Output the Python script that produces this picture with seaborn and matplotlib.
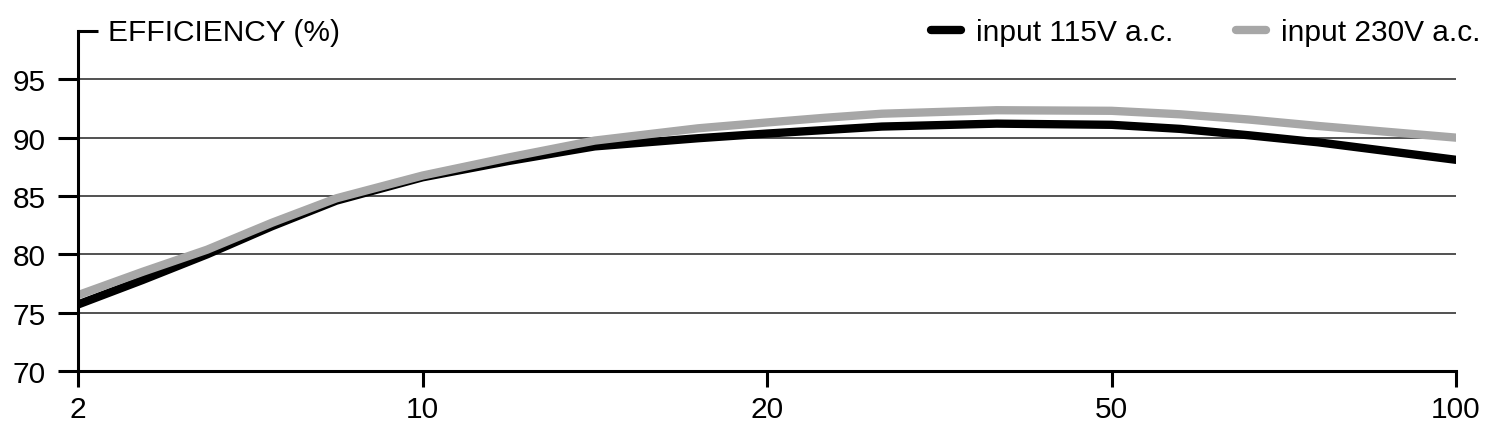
import matplotlib
matplotlib.use("Agg")
import matplotlib.pyplot as plt
import seaborn as sns
import numpy as np
import pandas as pd

load = [2, 3.5, 5, 6.5, 8, 10, 12.5, 15, 18, 20, 25, 30, 40, 50, 60, 70, 80, 90, 100]
eff_115 = [75.7, 77.8, 80.0, 82.4, 84.6, 86.6, 88.0, 89.25, 89.95, 90.35, 90.65, 90.95,
           91.2, 91.1, 90.75, 90.2, 89.6, 88.85, 88.1]
eff_230 = [76.5, 78.5, 80.4, 82.7, 84.8, 86.75, 88.3, 89.75, 90.8, 91.3, 91.7, 92.05,
           92.35, 92.3, 92.0, 91.55, 91.0, 90.5, 90.0]

x_ticks = [2, 10, 20, 50, 100]
y_ticks = [70, 75, 80, 85, 90, 95]
series = ["input 115V a.c.", "input 230V a.c."]
colors = ["#000000", "#a7a7a7"]

# the x axis puts the ticks at equal spacing, so map load onto tick index
pos = np.interp(load, x_ticks, np.arange(len(x_ticks)))

df = pd.concat([
    pd.DataFrame({"pos": pos, "eff": eff_115, "series": series[0]}),
    pd.DataFrame({"pos": pos, "eff": eff_230, "series": series[1]}),
])

sns.set_style("white")
plt.rcParams["font.family"] = ["Liberation Sans", "DejaVu Sans"]
plt.rcParams["text.color"] = "black"
plt.rcParams["xtick.color"] = "black"
plt.rcParams["ytick.color"] = "black"
plt.rcParams["xtick.labelcolor"] = "black"
plt.rcParams["ytick.labelcolor"] = "black"

fs = 21.5

fig = plt.figure(figsize=(14.91, 4.31), dpi=100)
ax = fig.add_axes([78 / 1491, 1 - 372 / 431, (1456 - 78) / 1491, (372 - 32) / 431])

sns.lineplot(data=df, x="pos", y="eff", hue="series", hue_order=series,
             palette=colors, linewidth=6, solid_capstyle="round",
             solid_joinstyle="round", ax=ax)

ax.set_xlim(0, len(x_ticks) - 1)
ax.set_ylim(70, 99.14)
ax.set_xticks(range(len(x_ticks)))
ax.set_xticklabels([str(t) for t in x_ticks])
ax.set_yticks(y_ticks)
ax.set_xlabel("")
ax.set_ylabel("")

for yv in y_ticks[1:]:
    ax.axhline(yv, color="#222222", lw=1.1, zorder=0)

for s in ["top", "right"]:
    ax.spines[s].set_visible(False)
for s in ["left", "bottom"]:
    ax.spines[s].set_linewidth(2.2)
    ax.spines[s].set_color("black")

ax.tick_params(axis="y", length=14.4, width=2.2, pad=9, labelsize=fs, left=True)
ax.tick_params(axis="x", length=11.5, width=2.2, pad=6, labelsize=fs, bottom=True)

# small tick at the top of the y axis, then the axis title
ax.plot([0, 20 / 1378], [1, 1], color="black", lw=2.2, transform=ax.transAxes,
        clip_on=False, solid_capstyle="butt")
fig.text(108 / 1491, 1 - 33 / 431, "EFFICIENCY (%)", fontsize=fs, va="center", ha="left")

handles, labels = ax.get_legend_handles_labels()
ax.get_legend().remove()
for h in handles:
    h.set_linewidth(6)
    h.set_solid_capstyle("round")
fig.legend(handles, labels, loc="center right", bbox_to_anchor=(1480 / 1491, 1 - 33 / 431),
           ncol=2, frameon=False, fontsize=fs, handlelength=1.0, handletextpad=0.5,
           columnspacing=2.1, borderpad=0, borderaxespad=0)

fig.savefig("out.png", dpi=100)
